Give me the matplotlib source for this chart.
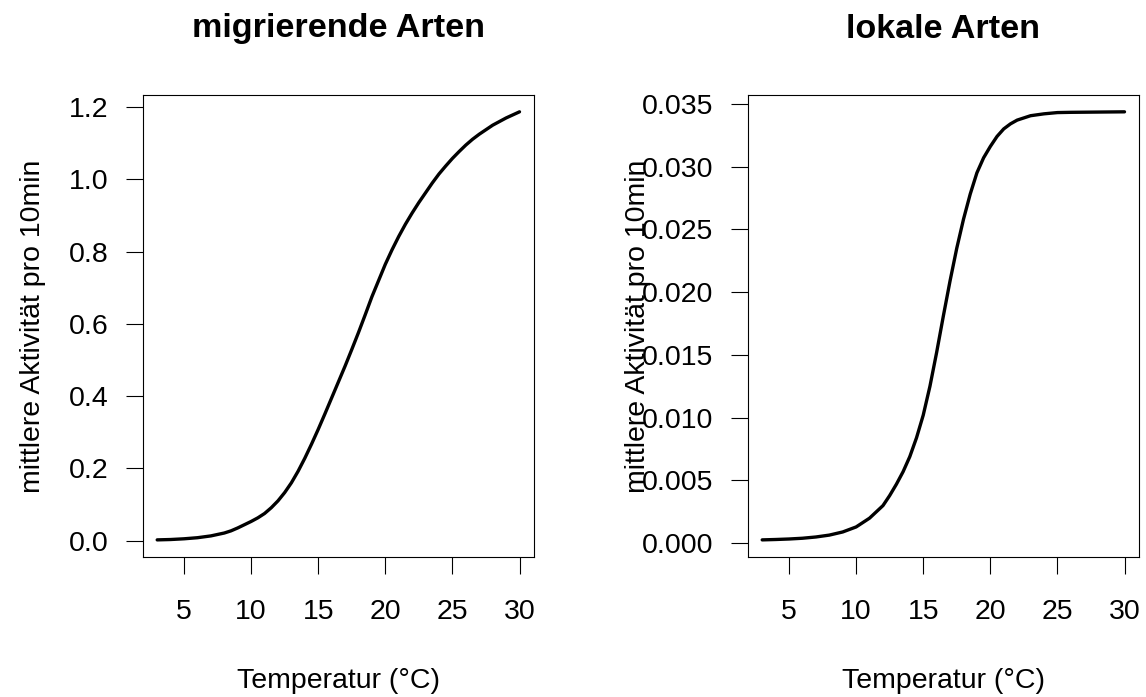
import numpy as np
import matplotlib
import matplotlib.pyplot as plt

matplotlib.use("Agg")

plt.rcParams["font.family"] = ["Liberation Sans", "DejaVu Sans"]

# Temperature values (°C) and read-off model curves
temp = [3, 4, 5, 6, 7, 8, 8.5, 9, 9.5, 10, 10.5, 11, 11.5, 12, 12.5, 13,
        13.5, 14, 14.5, 15, 15.5, 16, 16.5, 17, 17.5, 18, 18.5, 19, 19.5,
        20, 20.5, 21, 21.5, 22, 22.5, 23, 23.5, 24, 24.5, 25, 25.5, 26,
        26.5, 27, 28, 29, 30]
migr = [0.002, 0.003, 0.005, 0.008, 0.013, 0.021, 0.027, 0.035, 0.044,
        0.053, 0.063, 0.075, 0.091, 0.110, 0.133, 0.160, 0.192, 0.228,
        0.267, 0.308, 0.351, 0.395, 0.439, 0.483, 0.529, 0.576, 0.625,
        0.675, 0.720, 0.765, 0.805, 0.842, 0.876, 0.907, 0.936, 0.963,
        0.990, 1.015, 1.037, 1.058, 1.077, 1.095, 1.111, 1.125, 1.150,
        1.170, 1.187]

temp_lok = [3, 4, 5, 6, 7, 8, 9, 10, 11, 12, 12.5, 13, 13.5, 14, 14.5, 15,
            15.5, 16, 16.5, 17, 17.5, 18, 18.5, 19, 19.5, 20, 20.5, 21,
            21.5, 22, 23, 24, 25, 26, 27, 28, 29, 30]
lokal = [0.00027, 0.00030, 0.00034, 0.00040, 0.00050, 0.00065, 0.00090,
         0.00130, 0.00200, 0.00300, 0.00380, 0.00470, 0.00570, 0.00690,
         0.00840, 0.01020, 0.01250, 0.01520, 0.01810, 0.02090, 0.02350,
         0.02580, 0.02780, 0.02950, 0.03070, 0.03160, 0.03240, 0.03300,
         0.03340, 0.03370, 0.03405, 0.03420, 0.03430, 0.03432, 0.03433,
         0.03434, 0.03435, 0.03436]

titles = ["migrierende Arten", "lokale Arten"]
xlabel = "Temperatur (°C)"
ylabel = "mittlere Aktivität pro 10min"
xticks = [5, 10, 15, 20, 25, 30]
yticks_migr = [0.0, 0.2, 0.4, 0.6, 0.8, 1.0, 1.2]
yticks_lok = [0.000, 0.005, 0.010, 0.015, 0.020, 0.025, 0.030, 0.035]

W, H = 1146, 697
fig = plt.figure(figsize=(W / 100, H / 100), dpi=100)

fs = 20.5
panels = [
    (142.7, 534.0, temp, migr, yticks_migr, "{:.1f}"),
    (747.7, 1139.0, temp_lok, lokal, yticks_lok, "{:.3f}"),
]
top, bottom = 94.7, 557.0

for i, (x0, x1, xs, ys, yt, fmt) in enumerate(panels):
    ax = fig.add_axes([x0 / W, 1 - bottom / H, (x1 - x0) / W, (bottom - top) / H])
    ax.plot(xs, ys, color="black", linewidth=2.4, solid_capstyle="round",
            solid_joinstyle="round")
    ax.margins(x=0.04, y=0.04)
    ax.set_xticks(xticks)
    ax.set_yticks(yt)
    ax.set_yticklabels([fmt.format(v) for v in yt])
    ax.tick_params(direction="out", length=12.5, width=0.8, labelsize=fs)
    ax.tick_params(axis="x", pad=18)
    ax.tick_params(axis="y", pad=12)
    for s in ax.spines.values():
        s.set_linewidth(0.8)
    cx = (x0 + x1) / 2 / W
    fig.text(cx, 1 - 29 / H, titles[i], ha="center", va="center",
             fontsize=24.6, fontweight="bold")
    fig.text(cx, 1 - 681 / H, xlabel, ha="center", va="center", fontsize=fs)
    fig.text((x0 - 110) / W, 1 - (top + bottom) / 2 / H, ylabel, ha="center",
             va="center", rotation=90, fontsize=fs)

fig.savefig("out.png", dpi=100)
